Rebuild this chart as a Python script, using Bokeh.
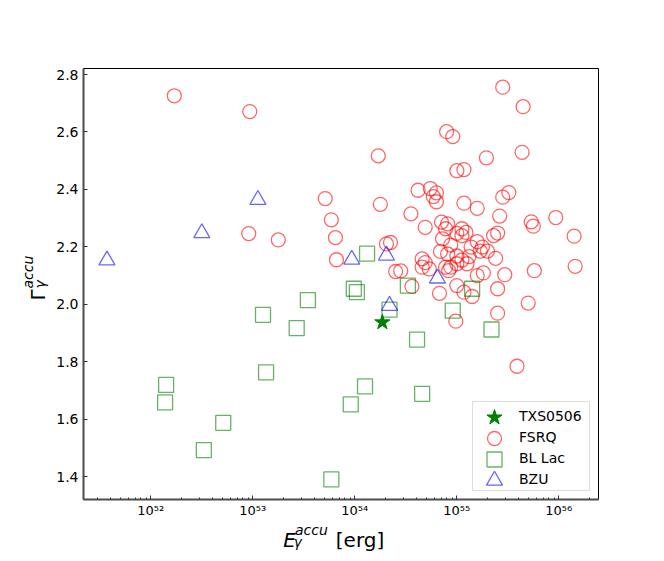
import math
import numpy as np
from bokeh.plotting import figure
from bokeh.layouts import row, column
from bokeh.models import Range1d, FixedTicker, Legend, LegendItem
from bokeh.core.properties import value
from bokeh.embed import file_html
from bokeh.resources import INLINE

# ---- data: log10(E_gamma^accu / erg) and Gamma_gamma^accu ----
fsrq_logE = [52.23, 52.97, 53.71, 53.77, 52.96, 53.25, 53.81, 53.82, 55.45, 55.65,
             54.90, 54.96, 54.23, 55.29, 55.64, 55.00, 55.07, 54.62, 54.74, 54.80,
             54.77, 54.80, 55.45, 55.51, 54.25, 54.55, 55.07, 55.20, 55.42, 55.73,
             55.75, 55.97, 56.15, 56.16, 55.76, 55.47, 54.31, 54.35, 54.40, 54.45,
             54.56, 54.83, 55.00, 55.07, 55.15, 55.40, 55.40, 55.70, 54.99, 55.59,
             54.69, 54.85, 54.91, 54.89, 55.05, 55.09, 55.05, 54.86, 54.94, 55.14,
             55.25, 55.30, 55.36, 55.40, 54.84, 54.91, 55.00, 55.05, 55.12, 55.10,
             54.89, 54.94, 54.92, 54.66, 54.66, 54.73, 54.69, 55.20, 55.26, 55.38,
             55.00, 55.20, 55.23, 55.00]
fsrq_gamma = [2.726, 2.671, 2.368, 2.294, 2.246, 2.224, 2.232, 2.155, 2.756, 2.688,
              2.601, 2.584, 2.517, 2.510, 2.529, 2.465, 2.469, 2.397, 2.403, 2.388,
              2.375, 2.357, 2.373, 2.389, 2.348, 2.315, 2.352, 2.334, 2.307, 2.287,
              2.272, 2.302, 2.237, 2.132, 2.117, 2.103, 2.210, 2.215, 2.114, 2.116,
              2.062, 2.038, 2.065, 2.042, 2.027, 2.054, 1.969, 2.004, 1.941, 1.784,
              2.268, 2.286, 2.280, 2.263, 2.263, 2.250, 2.239, 2.228, 2.206, 2.199,
              2.199, 2.185, 2.239, 2.248, 2.184, 2.175, 2.168, 2.154, 2.166, 2.141,
              2.129, 2.129, 2.117, 2.158, 2.129, 2.123, 2.145, 2.100, 2.109, 2.160,
              2.141, 2.218, 2.185, 2.247]

bllac_logE = [52.15, 52.14, 52.71, 52.52, 53.10, 53.54, 53.43, 53.13, 53.77, 53.96,
              53.99, 54.02, 54.34, 54.52, 54.61, 54.10, 54.66, 54.96, 55.15, 55.34,
              54.12]
bllac_gamma = [1.719, 1.658, 1.587, 1.492, 1.963, 2.014, 1.917, 1.763, 1.390, 1.651,
               2.054, 2.042, 1.981, 2.065, 1.877, 1.714, 1.688, 1.978, 2.054, 1.912,
               2.176]

bzu_logE = [51.57, 52.50, 53.05, 53.97, 54.31, 54.34, 54.81]
bzu_gamma = [2.153, 2.248, 2.364, 2.156, 2.170, 1.995, 2.090]

txs_logE = [54.27]
txs_gamma = [1.937]

legend_labels = ["TXS0506", "FSRQ", "BL Lac", "BZU"]

x_tick_exps = [52, 53, 54, 55, 56]
x_tick_labels = ["10⁵²", "10⁵³", "10⁵⁴", "10⁵⁵", "10⁵⁶"]
y_ticks = [1.4, 1.6, 1.8, 2.0, 2.2, 2.4, 2.6, 2.8]
y_tick_labels = ["1.4", "1.6", "1.8", "2.0", "2.2", "2.4", "2.6", "2.8"]

x_lo, x_hi = 10 ** 51.34, 10 ** 56.389
y_lo, y_hi = 1.32, 2.821

FONT = "DejaVu Sans"

# ---- layout geometry (pixels) ----
YLAB_W = 52
FRAME_W, FRAME_H = 515, 431
B_LEFT, B_RIGHT, B_TOP, B_BOTTOM = 31, 50, 68, 21
MAIN_W = B_LEFT + FRAME_W + B_RIGHT
MAIN_H = B_TOP + FRAME_H + B_BOTTOM
XLAB_H = 33
TOTAL_H = MAIN_H + XLAB_H

# marker styles (shared by plot and legend swatches)
styles = [
    dict(marker="star", size=16, fill_color="green", line_color="green", line_width=1),
    dict(marker="circle", size=14, fill_color=None, line_color="red", line_alpha=0.6, line_width=1.3),
    dict(marker="square", size=15, fill_color=None, line_color="green", line_alpha=0.6, line_width=1.3),
    dict(marker="triangle", size=16, fill_color=None, line_color="blue", line_alpha=0.6, line_width=1.3),
]

p = figure(width=MAIN_W, height=MAIN_H, x_axis_type="log",
           x_range=Range1d(x_lo, x_hi), y_range=Range1d(y_lo, y_hi),
           output_backend="svg", toolbar_location=None,
           min_border_left=B_LEFT, min_border_right=B_RIGHT,
           min_border_top=B_TOP, min_border_bottom=B_BOTTOM)
p.grid.visible = False
p.outline_line_color = "black"
p.outline_line_width = 1
p.background_fill_color = "white"
p.border_fill_color = "white"

x_ticks = [10.0 ** e for e in x_tick_exps]
minor = [k * 10.0 ** n for n in range(51, 57) for k in range(2, 10)
         if x_lo <= k * 10.0 ** n <= x_hi]
p.xaxis.ticker = FixedTicker(ticks=x_ticks, minor_ticks=minor)
p.xaxis.major_label_overrides = {t: l for t, l in zip(x_ticks, x_tick_labels)}
p.yaxis.ticker = FixedTicker(ticks=y_ticks)
p.yaxis.major_label_overrides = {t: l for t, l in zip(y_ticks, y_tick_labels)}

for ax in (p.xaxis[0], p.yaxis[0]):
    ax.axis_line_color = "#4d4d4d"
    ax.axis_line_width = 2
    ax.major_tick_in = 4
    ax.major_tick_out = 0
    ax.minor_tick_in = 2
    ax.minor_tick_out = 0
    ax.major_tick_line_color = "#333333"
    ax.minor_tick_line_color = "#333333"
    ax.major_label_text_font = FONT
    ax.major_label_text_color = "black"
p.yaxis.major_label_text_font_size = "14px"
p.yaxis.major_label_standoff = 5
p.xaxis.major_label_text_font_size = "13px"
p.xaxis.major_label_standoff = 3

series = [(txs_logE, txs_gamma), (fsrq_logE, fsrq_gamma),
          (bllac_logE, bllac_gamma), (bzu_logE, bzu_gamma)]
draw_order = [1, 2, 3, 0]
for i in draw_order:
    lx, gy = series[i]
    p.scatter(x=[10.0 ** v for v in lx], y=gy, **styles[i])

# ---- legend: box + labels from Legend, full-size swatches drawn in it ----
L_MARGIN = 8
L_PAD = dict(left=5, right=6, top=5, bottom=2)
L_ROW_H, L_SPACING, L_GLYPH_W, L_STANDOFF, L_LABEL_W = 18, 3, 30, 11, 64

proxies = [p.scatter(x=[], y=[], marker=s["marker"], fill_alpha=0, line_alpha=0)
           for s in styles]
legend = Legend(items=[LegendItem(label=lab, renderers=[r])
                       for lab, r in zip(legend_labels, proxies)],
                location="bottom_right", margin=L_MARGIN, padding=L_PAD,
                spacing=L_SPACING, glyph_width=L_GLYPH_W, glyph_height=L_ROW_H,
                label_height=L_ROW_H, label_width=L_LABEL_W, label_standoff=L_STANDOFF,
                label_text_font=FONT, label_text_font_size="14px",
                label_text_color="black", border_line_color="#bdbdbd",
                border_line_width=1, background_fill_alpha=0)
p.add_layout(legend)

# swatch centres, from the legend geometry, mapped through the plot's own scales
n = len(legend_labels)
box_h = L_PAD["top"] + L_PAD["bottom"] + n * L_ROW_H + (n - 1) * L_SPACING
box_w = L_PAD["left"] + L_GLYPH_W + L_STANDOFF + L_LABEL_W + L_PAD["right"]
fx = (FRAME_W - L_MARGIN - box_w + L_PAD["left"] + L_GLYPH_W / 2) / FRAME_W
box_top = L_MARGIN + box_h
for k, s in enumerate(styles):
    fy = (box_top - L_PAD["top"] - L_ROW_H / 2 - k * (L_ROW_H + L_SPACING)) / FRAME_H
    sx = x_lo * (x_hi / x_lo) ** fx
    sy = y_lo + (y_hi - y_lo) * fy
    p.scatter(x=[sx], y=[sy], level="overlay", **s)

# ---- axis titles (math-like layout) in side figures ----
def side_fig(w, h):
    f = figure(width=w, height=h, x_range=Range1d(0, w), y_range=Range1d(0, h),
               output_backend="svg", toolbar_location=None,
               x_axis_location=None, y_axis_location=None,
               min_border_left=0, min_border_right=0,
               min_border_top=0, min_border_bottom=0)
    f.grid.visible = False
    f.outline_line_color = None
    f.background_fill_color = "white"
    f.border_fill_color = "white"
    return f

def put(f, x, y, text, size, style="normal", angle=0.0):
    f.text(x=[x], y=[y], text=[text], text_font=value(FONT), text_font_size=size,
           text_font_style=style, text_color="black", text_baseline="alphabetic",
           text_align="left", angle=angle)

# x title: figure spans image x YLAB_W.., y MAIN_H..TOTAL_H
xl = side_fig(MAIN_W, XLAB_H)
put(xl, 283.3 - YLAB_W, TOTAL_H - 539.3, "E", "20px", "italic")
put(xl, 296.7 - YLAB_W, TOTAL_H - 529.8, "accu", "14px", "italic")
put(xl, 295.0 - YLAB_W, TOTAL_H - 541.5, "γ", "14px", "italic")
put(xl, 344.0 - YLAB_W, TOTAL_H - 539.3, "[erg]", "20px")

# y title: figure spans image x 0..YLAB_W, y 0..TOTAL_H
yl = side_fig(YLAB_W, TOTAL_H)
put(yl, 37.0, TOTAL_H - 300.0, "Γ", "20px", "normal", math.pi / 2)
put(yl, 27.0, TOTAL_H - 288.0, "accu", "14px", "italic", math.pi / 2)
put(yl, 39.5, TOTAL_H - 288.0, "γ", "14px", "italic", math.pi / 2)

layout = row(yl, column(p, xl))
open("out.html", "w").write(file_html(layout, INLINE))
